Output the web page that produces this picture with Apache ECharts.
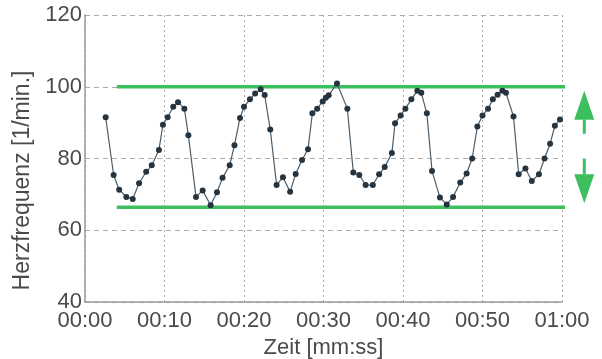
<!DOCTYPE html>
<html>
<head>
<meta charset="utf-8">
<script src="https://cdn.jsdelivr.net/npm/echarts@6/dist/echarts.min.js"></script>
<style>
html,body{margin:0;padding:0;background:#fff;}
#chart{width:602px;height:359px;}
</style>
</head>
<body>
<div id="chart"></div>
<script>
// time in seconds
const times = [2.6,3.6,4.3,5.2,6.0,6.8,7.7,8.4,9.3,9.8,10.4,11.1,11.7,12.5,13.0,13.96,14.8,15.8,16.6,17.3,18.2,18.8,19.5,20.0,20.75,21.4,22.1,22.6,23.3,24.1,24.9,25.8,26.5,27.3,28.05,28.6,29.2,29.9,30.3,30.65,31.7,33.0,33.75,34.5,35.3,36.2,37.0,37.7,38.6,39.0,39.7,40.3,41.05,41.8,42.3,43.0,43.65,44.65,45.5,46.3,47.2,48.0,48.7,49.35,50.0,50.7,51.3,51.9,52.5,52.95,53.9,54.55,55.4,56.2,57.1,57.8,58.5,59.1,59.75];
// heart rate [1/min.]
const heartRate = [91.5,75.4,71.3,69.3,68.7,73.1,76.3,78.1,82.4,89.4,91.5,94.4,95.7,93.9,86.5,69.3,71.1,67.0,70.6,74.6,78.1,83.7,91.3,94.4,96.5,98.1,99.3,97.7,88.1,72.6,74.8,70.7,75.7,79.6,82.6,92.6,93.9,95.9,96.9,97.6,100.9,93.9,76.1,75.4,72.6,72.6,75.6,77.6,81.5,89.8,92.0,93.9,96.5,98.9,98.3,92.6,76.5,69.1,67.2,69.3,73.3,75.8,80.0,88.9,92.0,93.9,96.5,97.8,98.9,98.3,91.7,75.6,77.2,73.7,75.6,80.0,84.1,89.1,90.9];
// green band limits
const limitSpan = [4, 64];
const upperLimit = 100;
const lowerLimit = 66.4;
// arrows: [x, from, to]
const arrowUp = [62.8, 86.9, 98.9];
const arrowDown = [62.8, 80, 67.5];
// tick labels
const xTickLabels = ['00:00','00:10','00:20','00:30','00:40','00:50','01:00'];
const yTicks = [40, 60, 80, 100, 120];

const green = '#3dbf5f';
const textColor = '#4a4a4a';
const fontFamily = '"Liberation Sans", Arial, sans-serif';

const chart = echarts.init(document.getElementById('chart'), null, {renderer: 'canvas'});

const seriesData = times.map((t, i) => [t, heartRate[i]]);

chart.setOption({
  animation: false,
  backgroundColor: '#fff',
  grid: {left: 85, right: 40, top: 15, bottom: 57, containLabel: false, outerBoundsMode: 'none'},
  xAxis: {
    type: 'value',
    min: 0, max: 60, interval: 10,
    name: 'Zeit [mm:ss]',
    nameLocation: 'middle',
    nameGap: 25,
    nameTextStyle: {fontSize: 22, color: textColor, fontFamily: fontFamily},
    axisLine: {show: true, lineStyle: {color: '#9a9a9a', width: 1.5}},
    axisTick: {show: false},
    axisLabel: {
      fontSize: 22, color: textColor, fontFamily: fontFamily, margin: 8,
      formatter: v => xTickLabels[Math.round(v / 10)]
    },
    splitLine: {show: true, lineStyle: {color: '#aaaaaa', width: 1, type: [2, 3]}}
  },
  yAxis: {
    type: 'value',
    min: yTicks[0], max: yTicks[yTicks.length - 1], interval: 20,
    name: 'Herzfrequenz [1/min.]',
    nameLocation: 'middle',
    nameGap: 46,
    nameTextStyle: {fontSize: 23, color: textColor, fontFamily: fontFamily, padding: [0, 44, 0, 0]},
    axisLine: {show: true, lineStyle: {color: '#9a9a9a', width: 1.5}},
    axisTick: {show: false},
    axisLabel: {fontSize: 22, color: textColor, fontFamily: fontFamily, margin: 3},
    splitLine: {show: true, lineStyle: {color: '#aaaaaa', width: 1, type: [5, 4]}}
  },
  series: [
    {
      type: 'line',
      clip: false,
      data: limitSpan.map(t => [t, upperLimit]),
      symbol: 'none',
      lineStyle: {color: green, width: 3.5},
      z: 1
    },
    {
      type: 'line',
      clip: false,
      data: limitSpan.map(t => [t, lowerLimit]),
      symbol: 'none',
      lineStyle: {color: green, width: 3.5},
      z: 1
    },
    {
      type: 'line',
      data: seriesData,
      symbol: 'circle',
      symbolSize: 6,
      itemStyle: {color: '#25343e'},
      lineStyle: {color: '#4d5c68', width: 1.2},
      z: 3
    },
    {
      type: 'custom',
      clip: false,
      data: [arrowUp, arrowDown],
      renderItem: function (params, api) {
        const x = api.value(0);
        const p0 = api.coord([x, api.value(1)]);
        const p1 = api.coord([x, api.value(2)]);
        const dir = p1[1] < p0[1] ? -1 : 1;
        const headLen = 29, halfW = 10;
        const baseY = p1[1] - dir * headLen;
        return {
          type: 'group',
          children: [
            {type: 'line', shape: {x1: p0[0], y1: p0[1], x2: p0[0], y2: baseY},
             style: {stroke: green, lineWidth: 3}},
            {type: 'polygon', shape: {points: [[p1[0], p1[1]], [p1[0] - halfW, baseY], [p1[0] + halfW, baseY]]},
             style: {fill: green}}
          ]
        };
      },
      z: 2
    }
  ]
});
</script>
</body>
</html>
